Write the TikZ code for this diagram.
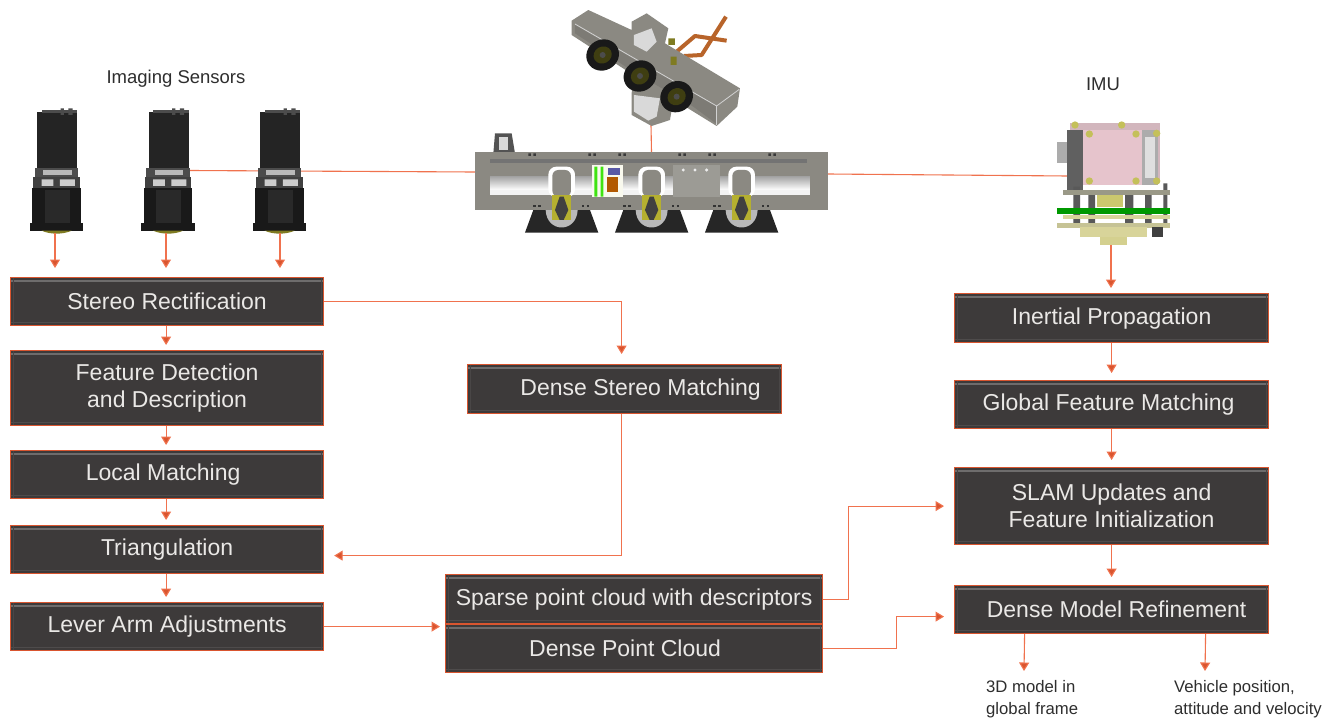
\documentclass[tikz,border=0pt]{standalone}
\usepackage{fontspec}
\setmainfont{Liberation Sans}
\usetikzlibrary{arrows.meta}
\definecolor{boxfill}{HTML}{3D3A3A}
\definecolor{boxedge}{HTML}{D9552F}
\definecolor{bevel}{HTML}{6E6C6C}
\definecolor{wire}{HTML}{F0724E}
\definecolor{txtlight}{HTML}{EAE8E6}
\definecolor{txtdark}{HTML}{2E2E2E}
\definecolor{metal}{HTML}{8B8982}
\definecolor{metald}{HTML}{7D7B75}
\definecolor{olive}{HTML}{B5B030}
\definecolor{pinkb}{HTML}{E6C4CC}
\definecolor{tanb}{HTML}{D8D49A}
\definecolor{piper}{HTML}{B8642A}
\tikzset{
  flowbox/.style={minimum width=#1,inner sep=0pt,anchor=north west,rectangle,fill=boxfill,draw=boxedge,line width=1.2pt,
    text=txtlight,font=\fontsize{23}{27}\selectfont,align=center,
    path picture={
      \draw[bevel,line width=1.8pt] ([yshift=-3.5pt]path picture bounding box.north west) -- ([yshift=-3.5pt]path picture bounding box.north east);
      \draw[bevel!35!boxfill,line width=1.4pt] ([yshift=3pt]path picture bounding box.south west) -- ([yshift=3pt]path picture bounding box.south east);
      \draw[bevel!25!boxfill,line width=1pt] ([xshift=2.5pt]path picture bounding box.north west) -- ([xshift=2.5pt]path picture bounding box.south west);
      \draw[bevel!25!boxfill,line width=1pt] ([xshift=-2.5pt]path picture bounding box.north east) -- ([xshift=-2.5pt]path picture bounding box.south east);
    }},
  flow/.style={draw=wire,line width=1.1pt,-{Triangle[length=8.5pt,width=10pt,fill=boxedge]}},
  plainwire/.style={draw=wire,line width=1.1pt},
  lbl/.style={text=txtdark,font=\fontsize{16.7}{22}\selectfont,inner sep=0pt},
  headlbl/.style={text=txtdark,font=\fontsize{18.5}{22}\selectfont,inner sep=0pt},
  anchorbox/.style={inner sep=0pt,minimum width=#1,rectangle}
}
\newcommand{\camdraw}[1]{%
\begin{scope}[shift={(#1,60)},x=0.3333pt,y=-0.3333pt]
  \fill[black!86] (112,155) rectangle (232,325);
  \fill[black!70] (182,145) rectangle (192,165) (205,145) rectangle (218,165);
  \fill[black!70] (125,150) rectangle (232,158);
  \fill[gray!60!black] (105,325) rectangle (235,350);
  \fill[gray!55] (130,330) rectangle (215,345);
  \fill[gray!50!black] (100,350) rectangle (240,385);
  \fill[gray!40] (125,358) rectangle (160,378) (180,358) rectangle (225,378);
  \fill[black!90] (97,385) rectangle (243,490);
  \fill[black!84] (135,390) rectangle (210,490);
  \fill[black!90] (90,490) rectangle (250,512);
  \fill[olive!70!black] (125,512) .. controls (150,524) and (190,524) .. (215,512) -- cycle;
\end{scope}}
\begin{document}
\begin{tikzpicture}[x=1pt,y=-1pt]
\useasboundingbox (0,0) rectangle (1323,723);
\fill[white] (0,0) rectangle (1323,723);

\node[anchorbox=53pt,minimum height=123pt] (cama) at (56.5,171.5) {};
\node[anchorbox=53pt,minimum height=123pt] (camb) at (168,171.5) {};
\node[anchorbox=53pt,minimum height=123pt] (camc) at (280,171.5) {};
\node[anchorbox=353pt,minimum height=58pt] (housing) at (651.5,181) {};
\node[anchorbox=170pt,minimum height=120pt] (rig) at (651,65) {};
\node[anchorbox=110pt,minimum height=120pt] (imu) at (1111,185) {};
\coordinate (camtap) at (190,170.5);
\coordinate (imutap) at (1068,176);
\draw[plainwire] (camtap) -- ([yshift=9pt]housing.west);
\draw[plainwire] ([yshift=7pt]housing.east) -- (imutap);
\draw[plainwire] (rig.south) -- (housing.north);

\camdraw{0}\camdraw{111.5}\camdraw{223}

% rig
\begin{scope}[shift={(460,0)},x=0.3333pt,y=-0.3333pt]
  \draw[piper,line width=4pt,line join=round] (650,155) -- (705,108) -- (800,122);
  \draw[piper,line width=4pt,line join=round] (672,168) -- (725,165) -- (798,50);
  \fill[metal] (335,62) -- (385,30) -- (515,90) -- (515,65) -- (560,40) -- (625,85) -- (615,130) -- (840,265) -- (832,320) -- (770,378) -- (660,310) -- (640,300) -- (630,360) -- (575,378) -- (515,345) -- (515,280) -- (520,225) -- (335,105) -- cycle;
  \fill[metald] (345,75) -- (345,100) -- (520,215) -- (700,320) -- (770,372) -- (770,320) -- cycle;
  \draw[gray!35,line width=0.8pt] (345,72) -- (770,318) -- (838,268);
  \draw[gray!35,line width=0.8pt] (770,318) -- (770,376);
  \fill[gray!30] (522,105) -- (575,85) -- (590,125) -- (560,155) -- (522,135) -- cycle;
  \fill[gray!30] (522,285) -- (600,295) -- (590,350) -- (565,362) -- (522,335) -- cycle;
  \foreach \a/\b in {428/165,540/228,650/290}{
    \fill[black!90,rotate around={30:(\a,\b)}] (\a,\b) ellipse (50 and 46);
    \fill[olive!35!black,rotate around={30:(\a,\b)}] (\a,\b) ellipse (28 and 25);
    \fill[black!70] (\a,\b) circle (9);
  }
  \fill[olive!70!black] (625,115) rectangle (645,135) (632,170) rectangle (650,195);
\end{scope}

% housing
\begin{scope}[shift={(460,0)},x=0.3333pt,y=-0.3333pt]
  \foreach \a in {305,575,845}{
    \fill[black!85] (\a-110,698) -- (\a-85,630) -- (\a+85,630) -- (\a+110,698) -- cycle;
    \fill[gray!55] (\a-48,630) .. controls (\a-45,700) and (\a+45,700) .. (\a+48,630) -- cycle;
  }
  \fill[gray!65!black] (105,400) -- (155,400) -- (165,460) -- (100,460) -- cycle;
  \fill[gray!30] (118,410) rectangle (145,450);
  \fill[metal] (45,455) rectangle (1105,630);
  \fill[black!55] (90,478) rectangle (1040,490);
  \shade[top color=gray!70,bottom color=white] (90,530) rectangle (1050,570);
  \fill[white!90!gray] (90,570) rectangle (1050,585);
  \fill[metal!85] (640,495) rectangle (780,590);
  \foreach \a in {305,575,845}{
    \fill[white,rounded corners=8pt] (\a-40,500) rectangle (\a+40,592);
    \fill[metal,rounded corners=6pt] (\a-28,510) rectangle (\a+28,590);
    \fill[olive] (\a-28,585) rectangle (\a+28,660);
    \fill[black!75] (\a-6,590) -- (\a+6,590) -- (\a+20,630) -- (\a+6,660) -- (\a-6,660) -- (\a-20,630) -- cycle;
    \foreach \d in {-85,-70,60,75}{\fill[gray!40!black] (\a+\d,615) rectangle (\a+\d+8,622);}
  }
  \foreach \t in {205,385,475,655,745,925}{\fill[gray!45!black] (\t,460) rectangle (\t+8,468) (\t+15,460) rectangle (\t+23,468);}
  \fill[white!92!olive] (395,495) rectangle (490,590);
  \fill[green!65!olive] (403,500) rectangle (412,590) (422,500) rectangle (430,590);
  \fill[orange!70!black] (440,530) rectangle (475,575);
  \fill[blue!30!gray] (445,505) rectangle (480,525);
  \foreach \a in {670,705,740} {\fill[white!85!gray] (\a,510) circle (5);}
\end{scope}

% imu
\begin{scope}[shift={(1030,120)},x=0.3333pt,y=-0.3333pt]
  \fill[pinkb!80!gray] (120,10) rectangle (390,190);
  \fill[gray!65] (335,30) rectangle (385,195);
  \fill[gray!25] (345,50) rectangle (375,175);
  \fill[gray!65] (80,65) rectangle (115,130);
  \fill[gray!75!black] (110,30) rectangle (160,210);
  \fill[pinkb] (160,30) rectangle (335,195);
  \foreach \a/\b in {135/15,275/15,178/42,318/42,178/183,318/183,380/40,380/183}{\fill[olive!80] (\a,\b) circle (11);}
  \fill[gray!70!black] (130,200) rectangle (150,310) (285,225) rectangle (310,310) (345,225) rectangle (365,310) (400,190) rectangle (412,310) (175,225) rectangle (195,310);
  \fill[gray!70!tanb] (100,210) rectangle (420,225);
  \fill[olive!70] (200,225) rectangle (280,262);
  \fill[tanb] (100,285) rectangle (420,298);
  \fill[green!60!black] (80,265) rectangle (420,282);
  \fill[tanb!80!gray] (80,310) rectangle (420,325);
  \fill[tanb] (150,320) rectangle (350,350);
  \fill[tanb!90!olive] (210,350) rectangle (290,375);
  \fill[black!75] (365,322) rectangle (400,350);
\end{scope}

% boxes
\node[flowbox=313pt,minimum height=48pt] (stereo) at (10,277) {Stereo Rectification};
\node[flowbox=313pt,minimum height=75pt] (feature) at (10,350) {Feature Detection\\and Description};
\node[flowbox=313pt,minimum height=48pt] (local) at (10,450) {Local Matching\hspace*{8pt}};
\node[flowbox=313pt,minimum height=48pt] (tri) at (10,525) {Triangulation};
\node[flowbox=313pt,minimum height=48pt] (lever) at (10,602) {Lever Arm Adjustments};
\node[flowbox=314pt,minimum height=49pt] (dsm) at (467,364) {\hspace*{32pt}Dense Stereo Matching};
\node[flowbox=377pt,minimum height=49pt] (sparse) at (445,574) {Sparse point cloud with descriptors};
\node[flowbox=377pt,minimum height=48pt] (dpc) at (445,624) {Dense Point Cloud\hspace*{18pt}};
\node[flowbox=314pt,minimum height=49pt] (inertial) at (954,293) {Inertial Propagation};
\node[flowbox=314pt,minimum height=48pt] (global) at (954,380) {Global Feature Matching\hspace*{6pt}};
\node[flowbox=314pt,minimum height=77pt] (slam) at (954,467) {SLAM Updates and\\Feature Initialization};
\node[flowbox=314pt,minimum height=48pt] (refine) at (954,585) {\hspace*{10pt}Dense Model Refinement};

% labels
\node[headlbl] (imaging) at (176,79) {Imaging Sensors};
\node[headlbl] (imulabel) at (1103,84) {IMU};
\node[lbl,anchor=north west,align=left] (model) at (986,680) {3D model in\\global frame};
\node[lbl,anchor=north west,align=left] (vehicle) at (1174,680) {Vehicle position,\\attitude and velocity};
\coordinate (modeltop) at (1024,671);
\coordinate (vehicletop) at (1205,671);

% connectors
\draw[flow,shorten >=9pt] ([xshift=-1.5pt]cama.south) -- ([xshift=-1.5pt]cama.south |- stereo.north);
\draw[flow,shorten >=9pt] ([xshift=-2pt]camb.south) -- ([xshift=-2pt]camb.south |- stereo.north);
\draw[flow,shorten >=9pt] (camc.south) -- (camc.south |- stereo.north);
\draw[flow,shorten >=5pt] (imu.south) -- (imu.south |- inertial.north) ;
\draw[flow,shorten >=5pt] ([xshift=-1pt]stereo.south) -- ([xshift=-1pt]feature.north);
\draw[flow,shorten >=5pt] ([xshift=-1pt]feature.south) -- ([xshift=-1pt]local.north);
\draw[flow,shorten >=5pt] ([xshift=-1pt]local.south) -- ([xshift=-1pt]tri.north);
\draw[flow,shorten >=5pt] ([xshift=-1pt]tri.south) -- ([xshift=-1pt]lever.north);
\draw[flow,shorten >=10pt] (stereo.east) -| ([xshift=-3pt]dsm.north);
\draw[flow,shorten >=10pt] ([xshift=-3pt]dsm.south) |- ([yshift=-6pt]tri.east);
\draw[flow,shorten >=5pt] (lever.east) -- (lever.east -| sparse.west);
\draw[flow,shorten >=7pt] (inertial.south) -- (global.north);
\draw[flow,shorten >=7pt] (global.south) -- (slam.north);
\draw[flow,shorten >=8pt] (slam.south) -- (refine.north);
\draw[flow,shorten >=10pt] (sparse.east) -- ++(25,0) |- (slam.west);
\draw[flow,shorten >=10pt] (dpc.east) -- ++(73,0) |- ([yshift=-7pt]refine.west);
\draw[flow] ([xshift=-87pt]refine.south) -- (modeltop);
\draw[flow] ([xshift=94pt]refine.south) -- (vehicletop);
\end{tikzpicture}
\end{document}
